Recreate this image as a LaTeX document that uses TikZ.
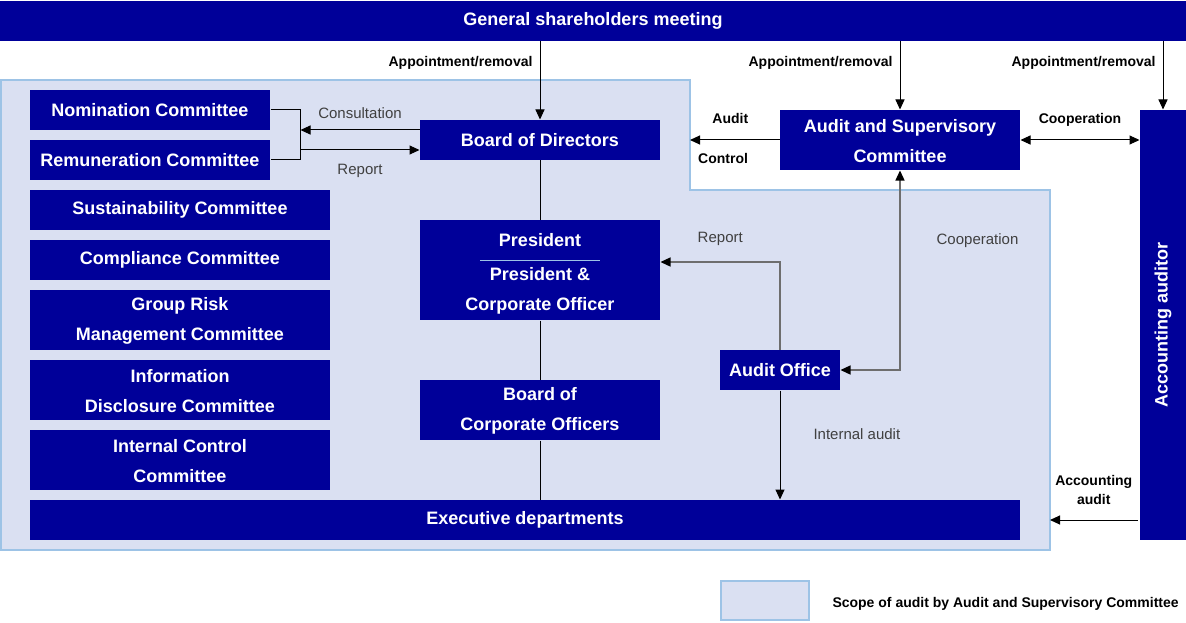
\documentclass[tikz,border=0pt]{standalone}
\usepackage{fontspec}
\setmainfont{Liberation Sans}
\usetikzlibrary{arrows.meta}
\definecolor{navy}{RGB}{0,0,153}
\definecolor{scopefill}{RGB}{218,224,242}
\definecolor{scopeline}{RGB}{157,195,230}
\definecolor{notegray}{RGB}{64,64,64}
\definecolor{linegray}{RGB}{110,110,110}

\begin{document}
\begin{tikzpicture}[x=1pt,y=-1pt,line width=1pt,
    box/.style={fill=navy,text=white,inner sep=0pt,align=center,font=\bfseries\fontsize{18}{30}\selectfont},
    lbl/.style={font=\bfseries\fontsize{14}{19}\selectfont,inner sep=0pt,align=center},
    note/.style={font=\fontsize{15}{18}\selectfont,text=notegray,inner sep=0pt},
    arr/.style={-{Triangle[length=10pt,width=9pt]}},
    biarr/.style={{Triangle[length=10pt,width=9pt]}-{Triangle[length=10pt,width=9pt]}},
    garr/.style={draw=linegray,line width=1.3pt,-{Triangle[length=10pt,width=9pt,black]}},
    gbiarr/.style={draw=linegray,line width=1.3pt,{Triangle[length=10pt,width=9pt,black]}-{Triangle[length=10pt,width=9pt,black]}},
    scopearea/.style={fill=scopefill,draw=scopeline,line width=2pt}]
\useasboundingbox (0,0) rectangle (1186,623);
\draw[scopearea] (1,80) -- (690,80) -- (690,190) -- (1050,190) -- (1050,550) -- (1,550) -- cycle;
\coordinate (stepn) at (690,80);
\coordinate (scse) at (1050,550);

\node[box,minimum width=1186,minimum height=40] (gsm) at (593,21) {General shareholders meeting};
\node[box,minimum width=240,minimum height=40] (nom) at (150,110) {Nomination Committee};
\node[box,minimum width=240,minimum height=40] (rem) at (150,160) {Remuneration Committee};
\node[box,minimum width=300,minimum height=40] (sus) at (180,210) {Sustainability Committee};
\node[box,minimum width=300,minimum height=40] (comp) at (180,260) {Compliance Committee};
\node[box,minimum width=300,minimum height=60] (risk) at (180,320) {\rule{0pt}{15pt}Group Risk\\Management Committee};
\node[box,minimum width=300,minimum height=60] (disc) at (180,390) {\rule{0pt}{15pt}Information\\Disclosure Committee};
\node[box,minimum width=300,minimum height=60] (ictl) at (180,460) {\rule{0pt}{15pt}Internal Control\\Committee};
\node[box,minimum width=990,minimum height=40] (exec) at (525,520) {Executive departments};
\node[box,minimum width=240,minimum height=40] (bod) at (540,140) {Board of Directors};
\node[box,minimum width=240,minimum height=100] (pres) at (540,270) {\rule{0pt}{21pt}President\\[4pt]President \&\\Corporate Officer};
\node[box,minimum width=240,minimum height=60] (boco) at (540,410) {\rule{0pt}{15pt}Board of\\Corporate Officers};
\node[box,minimum width=120,minimum height=40] (ao) at (780,370) {Audit Office};
\node[box,minimum width=240,minimum height=60] (asc) at (900,140) {\rule{0pt}{15pt}Audit and Supervisory\\Committee};
\node[box,rotate=90,minimum width=430,minimum height=46] (aa) at (1163,325) {Accounting auditor};
\draw[scopeline] (480,260) -- (600,260);

\coordinate (cin) at ([yshift=10pt]bod.west);
\coordinate (rin) at ([yshift=-10pt]bod.west);
\coordinate (prep) at ([yshift=8pt]pres.east);

\draw[arr] (gsm.south -| bod.north) -- node[lbl,pos=.27,left=7pt]{Appointment/removal} (bod.north);
\draw[arr] (gsm.south -| asc.north) -- node[lbl,pos=.31,left=7pt]{Appointment/removal} (asc.north);
\draw[arr] (gsm.south -| aa.east) -- node[lbl,pos=.31,left=7pt]{Appointment/removal} (aa.east);

\draw (nom.east) -- ++(30,0) coordinate (brk) |- (rem.east);
\draw[arr] (cin) -- node[note,above=11pt]{Consultation} (cin -| brk);
\draw[arr] (rin -| brk) -- node[note,below=14pt]{Report} (rin);

\draw (bod) -- (pres);
\draw (pres) -- (boco);
\draw (boco.south) -- (boco.south |- exec.north);

\draw[arr] (asc.west) -- node[lbl,pos=.55,above=16pt]{Audit} node[lbl,pos=.63,below=13pt]{Control} (asc.west -| stepn);
\draw[biarr] (asc.east) -- node[lbl,above=13pt]{Cooperation} (asc.east -| aa.north);
\draw[gbiarr] (asc.south) |- node[note,pos=.175,right=36pt]{Cooperation} (ao.east);
\draw[garr] (ao.north) |- node[note,pos=.75,above=16pt]{Report} (prep);
\draw[arr] (ao.south) -- node[note,pos=.4,right=33pt]{Internal audit} (ao.south |- exec.north);
\draw[arr] ([xshift=-2pt]aa.north |- exec.east) -- node[lbl,above=15pt]{Accounting\\audit} (exec.east -| scse);

\draw[scopearea] (721,581) rectangle (809,620);
\node[lbl,anchor=base west] (legend) at (832,607) {Scope of audit by Audit and Supervisory Committee};
\end{tikzpicture}
\end{document}
